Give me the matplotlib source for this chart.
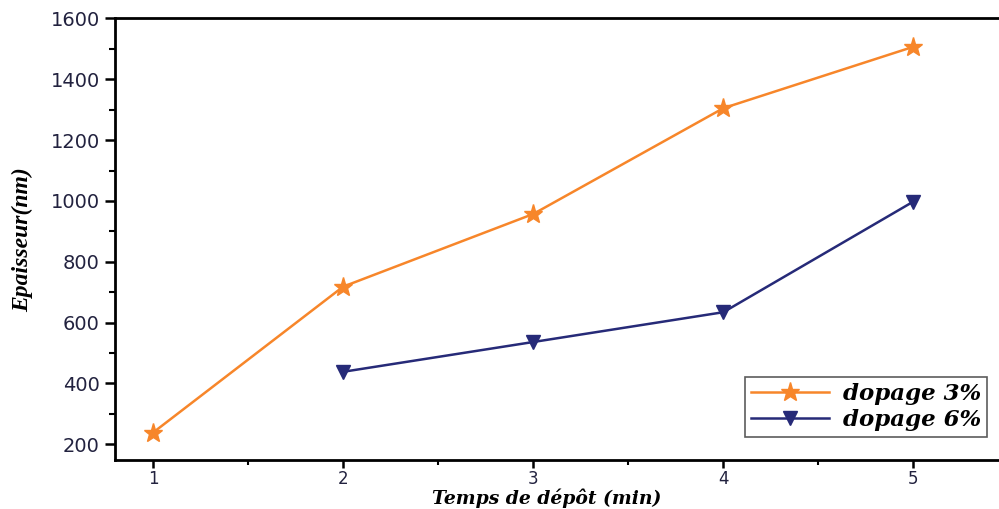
import matplotlib
matplotlib.use('Agg')
import matplotlib.pyplot as plt
from matplotlib.ticker import MultipleLocator

# data
temps = [1, 2, 3, 4, 5]
dopage_3 = [238, 718, 957, 1305, 1507]
temps_6 = [2, 3, 4, 5]
dopage_6 = [438, 536, 634, 998]

fig = plt.figure(figsize=(9.99, 5.09), dpi=100)
ax = fig.add_axes([0.1151, 0.0963, 0.8849, 0.8674])

ax.plot(temps, dopage_3, color='#F7862A', linewidth=1.8, marker='*',
        markersize=14, label='dopage 3%')
ax.plot(temps_6, dopage_6, color='#262A78', linewidth=1.8, marker='v',
        markersize=10, label='dopage 6%')

ax.set_xlim(0.8, 5.45)
ax.set_ylim(148, 1600)
ax.xaxis.set_major_locator(MultipleLocator(1))
ax.xaxis.set_minor_locator(MultipleLocator(0.5))
ax.yaxis.set_major_locator(MultipleLocator(200))
ax.yaxis.set_minor_locator(MultipleLocator(100))

ax.spines['right'].set_visible(False)
for side in ['left', 'top', 'bottom']:
    ax.spines[side].set_linewidth(2)

ax.tick_params(which='major', direction='out', length=7.5, width=1.8,
               labelsize=14, labelcolor='#22223f')
ax.tick_params(which='minor', direction='out', length=4, width=1.5)
ax.tick_params(axis='x', which='major', length=6, labelsize=12, pad=1)
ax.tick_params(axis='x', which='minor', length=3.5)

# x label sits just above the bottom edge, centred a bit right of tick 3
ax.set_xlabel('Temps de dépôt (min)', fontsize=13.5, fontweight='bold',
              fontstyle='italic', family='DejaVu Serif')
ax.xaxis.set_label_coords(0.5475, 0.001, transform=fig.transFigure)
ax.xaxis.label.set_verticalalignment('bottom')
ax.set_ylabel('Epaisseur(nm)', fontsize=17, fontweight='bold',
              fontstyle='italic', family='Liberation Serif')
ax.yaxis.set_label_coords(-0.092, 0.5)

leg = ax.legend(loc='lower right', bbox_to_anchor=(0.986, 0.052),
                borderaxespad=0,
                prop={'family': 'DejaVu Serif', 'weight': 'bold',
                      'style': 'italic', 'size': 16.5},
                fancybox=False, edgecolor='#333333', handlelength=3.4,
                borderpad=0.25, labelspacing=0.2, handletextpad=0.6)
leg.get_frame().set_linewidth(1.2)

fig.savefig('out.png', dpi=100)
